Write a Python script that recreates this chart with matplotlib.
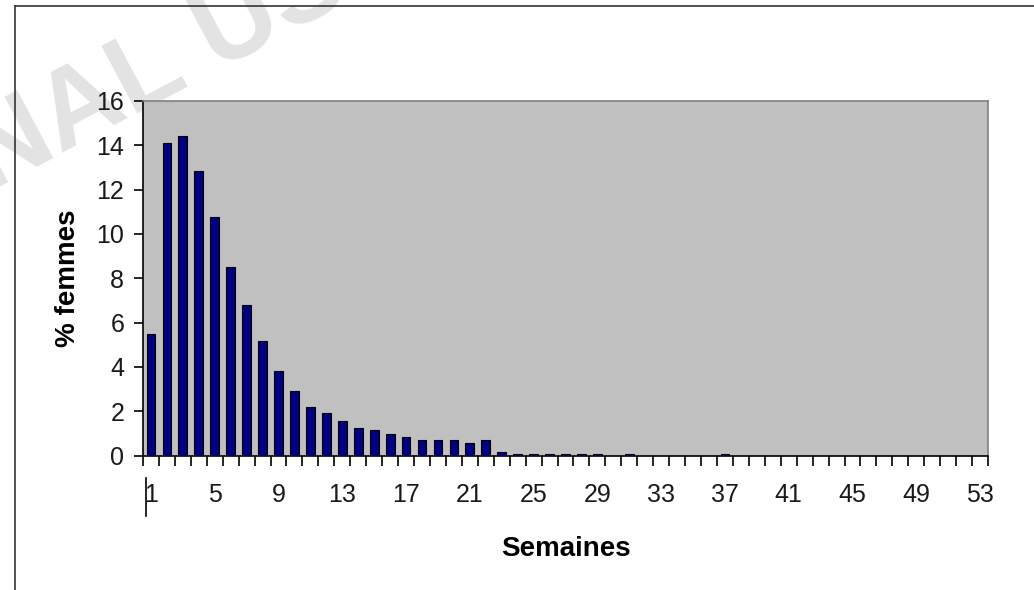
import numpy as np
import matplotlib
matplotlib.use("Agg")
import matplotlib.pyplot as plt
from matplotlib.lines import Line2D

plt.rcParams['font.family'] = ['Liberation Sans', 'DejaVu Sans']

# --- Data ---
weeks = list(range(1, 54))
pct_women = [5.5, 14.1, 14.4, 12.85, 10.75, 8.5, 6.8, 5.15, 3.8, 2.9,
             2.2, 1.9, 1.55, 1.25, 1.15, 0.95, 0.85, 0.7, 0.7, 0.7,
             0.55, 0.7, 0.18, 0.06, 0.06, 0.06, 0.06, 0.06, 0.06, 0.0,
             0.06, 0.0, 0.0, 0.0, 0.0, 0.0, 0.06, 0.0, 0.0, 0.0,
             0.0, 0.0, 0.0, 0.0, 0.0, 0.0, 0.0, 0.0, 0.0, 0.0,
             0.0, 0.0, 0.0]
week_labels = list(range(1, 54, 4))
y_ticks = list(range(0, 17, 2))

W, H = 1034, 590
fig = plt.figure(figsize=(W / 100, H / 100), dpi=100)

# faint watermark, mostly off the top-left corner
fig.text(-10 / W, 1 - 192 / H, "NAL USE", fontsize=80, fontweight='bold',
         color='#e3e3e3', rotation=28, rotation_mode='anchor',
         ha='left', va='baseline', zorder=0)

ax = fig.add_axes([143 / W, 1 - 455.5 / H, (988 - 143) / W, (455.5 - 101) / H])
ax.set_zorder(1)
ax.set_facecolor('#c0c0c0')

ax.bar(weeks, pct_women, width=0.55, color='#000080', edgecolor='black',
       linewidth=0.8, zorder=3)

ax.set_xlim(0.5, 53.5)
ax.set_ylim(0, 16)
ax.set_yticks(y_ticks)
ax.set_xticks(week_labels)
ax.set_xticks(np.arange(0.5, 54, 1), minor=True)
ax.tick_params(axis='x', which='major', length=0, pad=20, labelsize=18)
ax.tick_params(axis='x', which='minor', length=7.5, width=1.2, direction='out', color='black')
ax.tick_params(axis='y', length=6.5, width=1.2, direction='out', pad=7, labelsize=18)
for lab in ax.get_xticklabels() + ax.get_yticklabels():
    lab.set_color('#1a1a1a')

for side in ['top', 'right']:
    ax.spines[side].set_color('#808080')
    ax.spines[side].set_linewidth(1.2)
for side in ['left', 'bottom']:
    ax.spines[side].set_color('black')
    ax.spines[side].set_linewidth(1.2)

ax.set_xlabel("Semaines", fontsize=20, fontweight='bold', labelpad=21)
ax.set_ylabel("% femmes", fontsize=20, fontweight='bold', labelpad=11)

# frame around the chart and stray mark near the first label
fig.add_artist(Line2D([15 / W, 15 / W], [0, 1 - 6 / H], color='#333333', lw=1.2))
fig.add_artist(Line2D([15 / W, 1], [1 - 6 / H, 1 - 6 / H], color='#333333', lw=1.2))
fig.add_artist(Line2D([145.5 / W, 145.5 / W], [1 - 478 / H, 1 - 516 / H], color='black', lw=1.2))

fig.savefig("out.png", dpi=100)
